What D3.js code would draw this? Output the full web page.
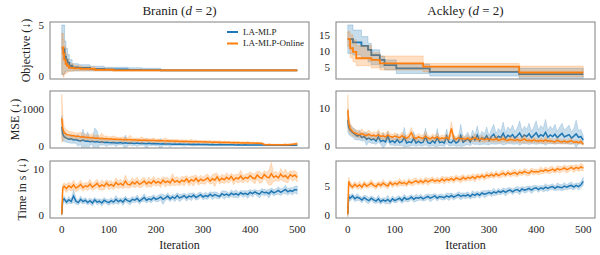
<!DOCTYPE html>
<html>
<head>
<meta charset="utf-8">
<script src="https://cdn.jsdelivr.net/npm/d3@7"></script>
<style>
body{margin:0;background:#fff;}
</style>
</head>
<body>
<script>
//---------------- data ----------------
var methods = ["LA-MLP", "LA-MLP-Online"];
var problems = ["Branin", "Ackley"];
var rowLabels = ["Objective (\u2193)", "MSE (\u2193)", "Time in s (\u2193)"];
var xTicks = [0, 100, 200, 300, 400, 500];

//iterations for the noisy rows
var iters = [0, 2,
  5,10,15,20,25,30,35,40,45,50,
  55,60,65,70,75,80,85,90,95,100,
  105,110,115,120,125,130,135,140,145,150,
  155,160,165,170,175,180,185,190,195,200,
  205,210,215,220,225,230,235,240,245,250,
  255,260,265,270,275,280,285,290,295,300,
  305,310,315,320,325,330,335,340,345,350,
  355,360,365,370,375,380,385,390,395,400,
  405,410,415,420,425,430,435,440,445,450,
  455,460,465,470,475,480,485,490,495,500];

//objective (best so far) - step change points
var braninObjStepsBlue = [0,4,6,9,12,16,22,35,60,90,140,170,210,500];
var braninObjBlue   = [2.7,2.6,1.9,1.6,1.3,1.0,0.85,0.8,0.7,0.65,0.6,0.58,0.55,0.55];
var braninObjBlueLo = [0.1,0.2,0.4,0.5,0.5,0.5,0.5,0.5,0.5,0.5,0.5,0.5,0.5,0.5];
var braninObjBlueHi = [5.0,5.0,3.4,2.7,2.1,1.6,1.2,1.1,0.95,0.85,0.8,0.75,0.6,0.6];
var braninObjStepsOrange = [0,3,5,8,11,15,25,40,70,110,500];
var braninObjOrange   = [2.8,2.2,1.6,1.2,1.0,0.8,0.75,0.7,0.6,0.55,0.55];
var braninObjOrangeLo = [0.2,-0.1,0.2,0.3,0.4,0.45,0.5,0.5,0.5,0.5,0.5];
var braninObjOrangeHi = [4.2,3.6,2.9,2.2,1.6,1.2,1.0,0.9,0.75,0.6,0.6];

var ackleyObjStepsBlue = [0,11,29,43,50,68,78,103,174,364,500];
var ackleyObjBlue   = [13.7,12.7,11.6,10.4,8.8,7.3,5.7,4.7,3.6,2.9,2.9];
var ackleyObjBlueLo = [9.3,8.8,8.0,6.7,5.8,5.0,4.2,3.1,2.3,1.6,1.6];
var ackleyObjBlueHi = [18.1,16.5,14.5,12.4,10.4,8.5,7.3,6.0,5.0,4.7,4.7];
var ackleyObjStepsOrange = [0,5,11,18,50,68,160,364,500];
var ackleyObjOrange   = [13.7,10.9,9.8,7.8,7.3,6.2,5.2,3.4,3.4];
var ackleyObjOrangeLo = [11.4,8.0,6.7,5.5,4.8,4.2,3.6,2.1,2.1];
var ackleyObjOrangeHi = [16.0,15.0,13.5,11.7,9.5,8.5,6.2,5.4,5.4];

//MSE - mean and std
var braninMseBlue = [520,330,
  250,214,183,192,161,176,150,139,158,128,
  134,117,125,108,121,99,112,96,104,93,
  88,97,84,81,92,77,86,74,80,76,
  70,79,66,73,69,62,71,60,65,58,
  63,55,60,52,57,54,49,56,47,51,
  45,50,44,47,42,46,40,45,39,42,
  38,43,36,40,37,34,39,33,37,32,
  35,31,34,29,33,30,28,32,27,30,
  26,29,25,28,24,27,23,26,22,25,
  21,24,20,23,19,22,18,21,19,20];
var braninMseBlueSd = [300,200,
  130,110,95,120,85,100,160,90,300,110,
  250,95,80,380,290,75,90,70,120,65,
  70,60,95,55,65,50,210,60,55,70,
  50,95,45,55,48,140,45,52,42,60,
  44,150,42,48,40,75,38,44,36,40,
  35,60,34,38,32,45,30,34,31,35,
  30,40,28,32,27,30,26,33,25,28,
  26,24,30,23,25,22,24,21,26,22,
  21,23,20,22,19,24,18,20,19,21,
  18,20,17,19,18,21,17,19,18,20];
var braninMseOrange = [750,480,
  360,312,301,276,284,258,266,243,252,232,
  238,221,229,209,216,203,212,195,201,186,
  194,180,188,174,183,170,178,166,173,162,
  169,158,165,153,161,150,157,146,152,143,
  148,139,145,135,141,132,138,128,134,125,
  130,122,127,118,124,115,120,112,117,109,
  114,105,110,102,107,99,104,96,101,93,
  98,90,95,87,92,84,89,81,86,78,
  82,75,79,72,74,42,35,38,32,36,
  33,37,31,35,38,34,40,45,52,60];
var braninMseOrangeSd = [650,350,
  160,120,100,110,90,95,85,130,80,90,
  75,85,110,70,80,65,140,70,75,60,
  65,90,58,62,55,75,52,60,120,55,
  50,58,48,90,46,52,44,50,65,42,
  46,40,44,85,40,42,38,55,37,40,
  36,42,35,38,60,34,37,33,36,32,
  35,31,40,30,33,29,45,28,31,27,
  30,26,29,38,25,28,24,27,35,23,
  26,22,25,21,24,15,14,16,13,15,
  14,16,13,15,18,14,20,22,28,35];

var ackleyMseBlue = [6.8,5.0,
  4.2,3.6,3.1,2.6,2.9,2.2,2.5,1.8,2.1,1.6,
  1.9,1.3,2.4,1.2,1.5,1.1,2.6,1.0,1.4,0.9,
  1.7,0.9,1.2,2.3,0.8,1.1,0.9,2.0,0.8,1.3,
  0.8,1.0,2.5,0.9,0.7,1.4,0.8,2.2,0.9,1.1,
  0.8,2.6,1.0,0.9,1.6,0.8,1.2,2.8,1.0,1.5,
  2.0,1.1,2.4,1.6,2.9,1.4,2.2,1.8,2.7,1.5,
  2.5,3.1,1.9,2.6,2.2,3.3,2.0,2.8,2.4,3.0,
  2.1,2.7,3.4,2.3,2.9,2.5,3.2,2.2,2.8,3.5,
  2.4,3.0,2.6,3.6,2.3,2.9,2.5,3.1,2.2,2.8,
  3.3,2.4,2.7,3.0,2.1,2.6,3.2,2.3,2.5,1.6];
var ackleyMseBlueSd = [3.0,2.0,
  1.5,1.2,1.4,1.0,1.3,0.9,1.1,1.6,1.0,0.9,
  1.2,0.9,1.4,0.8,2.0,0.9,1.3,0.8,1.1,0.9,
  1.5,0.8,1.0,2.6,0.9,1.2,0.8,1.8,0.9,1.1,
  0.8,1.0,2.2,0.9,0.8,1.3,0.9,2.4,0.8,1.0,
  0.9,1.9,1.0,0.8,1.4,0.9,1.1,2.9,1.0,1.3,
  1.6,1.0,1.8,1.2,2.4,1.1,1.7,1.3,2.3,1.2,
  1.9,2.6,1.4,2.0,1.6,3.0,1.5,2.2,1.8,2.5,
  1.6,2.1,3.2,1.7,2.3,1.9,2.8,1.6,2.2,3.1,
  1.8,2.4,2.0,3.4,1.7,2.3,1.9,2.6,1.6,2.2,
  2.7,1.8,2.1,2.5,1.6,2.0,3.6,1.7,1.9,1.2];
var ackleyMseOrange = [9.4,6.0,
  4.6,3.8,3.4,3.2,3.0,3.3,2.9,2.8,3.1,2.7,
  2.8,2.6,3.0,2.5,2.7,2.4,2.9,2.5,2.3,2.6,
  2.4,2.2,2.7,2.3,2.1,2.5,3.5,2.2,2.0,2.4,
  2.2,2.0,2.6,2.1,1.9,2.3,2.0,2.4,1.9,2.1,
  2.0,2.3,1.9,4.6,2.1,1.8,2.2,1.9,2.0,1.8,
  2.1,1.7,1.9,2.2,1.8,1.7,2.0,1.6,1.9,1.7,
  1.8,1.6,2.0,1.5,1.7,1.9,1.6,1.5,1.8,1.6,
  1.5,1.7,1.4,1.6,1.9,1.4,1.5,1.3,1.6,1.4,
  1.3,1.5,1.2,1.6,1.3,1.4,1.2,1.1,1.5,1.2,
  1.1,1.3,1.0,1.2,1.4,1.0,1.1,0.9,1.2,0.5];
var ackleyMseOrangeSd = [4.0,2.2,
  1.4,1.1,0.9,1.0,0.8,1.2,0.8,0.9,1.1,0.8,
  0.9,0.8,1.3,0.7,0.9,0.8,1.1,0.7,0.8,0.9,
  0.8,0.7,1.0,0.8,0.7,0.9,1.4,0.7,0.8,0.9,
  0.7,0.8,1.2,0.7,0.6,0.9,0.7,1.0,0.6,0.8,
  0.7,0.9,0.6,1.8,0.8,0.6,0.9,0.7,0.8,0.6,
  0.8,0.6,0.7,1.0,0.6,0.7,0.9,0.6,0.8,0.6,
  0.7,0.6,0.9,0.5,0.7,0.8,0.6,0.5,0.8,0.6,
  0.5,0.7,0.6,0.8,1.1,0.5,0.6,0.5,0.7,0.6,
  0.5,0.7,0.5,0.9,0.5,0.6,0.5,0.5,0.8,0.5,
  0.5,0.7,0.4,0.6,0.8,0.4,0.5,0.4,0.6,0.3];

//time per iteration - mean and std
var braninTimeBlue = [0.3,3.3,
  3.6,2.9,3.4,3.0,4.2,3.1,2.8,3.5,3.0,3.3,
  2.8,3.2,2.7,3.4,2.9,3.1,2.7,3.3,3.0,2.8,
  3.2,2.9,3.5,3.0,3.3,2.9,3.6,3.2,3.0,3.5,
  3.3,3.7,3.1,3.5,3.9,3.3,3.6,3.4,3.9,3.5,
  3.7,4.0,3.5,3.8,4.2,3.6,4.0,3.7,4.3,3.8,
  4.0,4.3,3.8,4.2,4.0,4.4,3.9,4.2,4.5,4.0,
  4.3,4.1,4.6,4.2,4.5,4.3,4.1,4.7,4.4,4.6,
  4.3,4.8,4.5,4.7,4.4,4.9,4.6,4.8,4.5,5.0,
  4.7,5.1,4.8,4.6,5.2,4.9,5.0,4.7,5.3,4.9,
  5.1,5.4,5.0,5.3,5.6,5.1,5.4,5.2,5.6,5.5];
var braninTimeBlueSd = [0.2,0.6,
  0.6,0.5,0.7,0.5,1.4,0.6,0.5,0.7,0.5,0.6,
  0.5,0.6,0.7,0.5,0.6,0.5,0.7,0.6,0.5,0.6,
  0.6,0.5,0.8,0.6,0.5,0.7,0.6,0.5,0.7,0.6,
  0.5,0.7,0.6,0.5,0.8,0.6,0.5,0.7,0.6,0.5,
  0.7,0.6,1.1,0.5,0.7,0.6,0.5,0.7,0.6,0.8,
  0.6,0.5,0.7,0.6,0.8,0.5,0.6,0.7,0.5,0.6,
  0.7,0.6,0.5,0.8,0.6,0.7,0.5,0.6,0.9,0.6,
  0.5,0.7,0.6,0.8,0.6,0.5,0.7,0.6,0.8,0.6,
  0.7,0.5,0.6,0.8,0.6,0.7,0.5,0.9,0.6,0.7,
  0.6,0.8,0.7,0.6,0.9,0.7,0.6,0.8,0.7,0.9];
var braninTimeOrange = [0.3,5.9,
  6.3,5.8,6.4,6.0,6.6,5.9,6.2,6.7,6.0,6.4,
  6.2,6.8,6.1,6.5,6.9,6.2,6.6,6.3,7.0,6.4,
  6.7,6.3,7.1,6.6,6.9,6.5,7.4,6.7,6.6,7.2,
  6.8,7.3,6.7,7.0,7.4,6.8,7.2,6.9,7.5,7.0,
  7.3,6.9,7.6,7.1,7.4,7.0,7.8,7.2,7.5,7.1,
  7.6,7.3,7.9,7.2,7.7,7.4,8.0,7.3,7.8,7.5,
  7.7,8.1,7.4,7.9,7.6,8.3,7.5,8.0,7.7,8.2,
  7.8,8.4,7.6,8.1,7.9,8.5,7.8,8.2,8.0,8.6,
  8.1,7.9,8.7,8.2,8.0,8.8,8.3,8.1,9.0,8.2,
  8.5,8.1,8.9,8.3,8.6,8.0,8.8,8.4,8.7,8.2];
var braninTimeOrangeSd = [0.3,0.8,
  0.7,0.9,0.8,0.7,1.0,0.8,0.7,0.9,0.8,0.7,
  0.8,1.0,0.7,0.8,0.9,0.7,1.1,0.8,0.7,0.9,
  0.8,0.7,1.0,0.8,0.9,0.7,1.3,0.8,0.7,0.9,
  0.8,1.0,0.7,0.9,0.8,0.7,1.0,0.8,0.9,0.7,
  0.8,0.9,0.7,1.0,0.8,0.7,1.2,0.8,0.9,0.7,
  0.8,1.0,0.7,0.9,0.8,1.1,0.7,0.8,0.9,0.7,
  1.0,0.8,0.7,0.9,1.4,0.8,0.7,0.9,0.8,1.0,
  0.8,0.7,1.0,0.8,0.9,1.2,0.8,0.7,1.0,0.8,
  0.9,1.1,0.8,1.3,0.9,0.8,1.0,1.6,2.4,0.9,
  1.0,0.8,1.2,0.9,1.4,1.0,0.8,1.1,0.9,1.0];

var ackleyTimeBlue = [0.3,3.3,
  3.0,3.4,2.9,3.2,3.0,2.7,3.1,2.8,2.6,3.0,
  2.7,2.5,2.9,2.4,2.7,2.5,2.8,2.4,2.9,2.6,
  2.8,3.0,2.6,3.1,2.8,2.9,3.2,2.8,3.1,3.0,
  3.2,2.9,3.1,3.3,3.0,3.2,3.4,3.0,3.3,3.2,
  3.1,3.4,3.2,3.5,3.2,3.4,3.6,3.3,3.5,3.4,
  3.6,3.3,3.7,3.5,3.8,3.5,3.9,3.7,3.8,4.0,
  3.8,4.1,3.9,4.2,4.0,4.3,4.0,4.3,4.4,4.1,
  4.4,4.5,4.2,4.6,4.4,4.5,4.7,4.4,4.7,4.8,
  4.5,4.8,4.6,4.9,4.7,4.9,5.0,4.7,5.0,4.9,
  4.8,5.1,4.9,5.1,5.2,4.9,5.2,5.0,5.3,5.9];
var ackleyTimeBlueSd = [0.6,0.5,
  0.5,0.4,0.5,0.6,0.4,0.5,0.4,0.6,0.5,0.4,
  0.5,0.4,0.6,0.5,0.4,0.5,0.7,0.4,0.5,0.4,
  0.5,0.4,0.5,0.6,0.4,0.5,0.4,0.5,0.6,0.4,
  0.5,0.4,0.5,0.4,0.6,0.5,0.4,0.5,0.4,0.5,
  0.4,0.5,0.6,0.4,0.5,0.4,0.5,0.6,0.4,0.5,
  0.5,0.4,0.6,0.5,0.4,0.5,0.4,0.6,0.5,0.4,
  0.5,0.6,0.4,0.5,0.4,0.5,0.6,0.5,0.4,0.5,
  0.4,0.5,0.6,0.4,0.5,0.5,0.4,0.6,0.5,0.4,
  0.5,0.4,0.5,0.6,0.5,0.4,0.5,0.4,0.6,0.5,
  0.5,0.6,0.4,0.5,0.6,0.5,0.4,0.6,0.5,0.7];
var ackleyTimeOrange = [0.2,5.9,
  5.3,4.9,5.4,5.0,5.3,4.9,5.5,5.1,5.3,5.6,
  5.2,5.0,5.5,5.2,5.6,5.3,5.1,5.7,5.3,5.6,
  5.4,5.8,5.5,5.7,5.4,5.9,5.6,5.8,6.0,5.7,
  6.0,5.7,6.1,5.8,6.0,6.2,5.9,6.1,5.9,6.3,
  6.0,6.3,6.1,6.4,6.1,6.5,6.3,6.2,6.6,6.3,
  6.6,6.4,6.7,6.4,6.8,6.6,6.9,6.6,7.0,6.8,
  7.1,6.8,7.2,6.9,7.1,7.3,7.0,7.4,7.1,7.3,
  7.4,7.1,7.5,7.3,7.6,7.4,7.3,7.7,7.5,7.6,
  7.5,7.8,7.6,7.9,7.7,7.8,8.0,7.7,8.1,7.9,
  8.0,8.2,7.9,8.1,8.3,8.0,8.3,8.1,8.4,8.2];
var ackleyTimeOrangeSd = [0.3,0.7,
  0.5,0.4,0.5,0.4,0.6,0.4,0.5,0.4,0.5,0.6,
  0.4,0.5,0.4,0.5,0.6,0.4,0.5,0.4,0.5,0.4,
  0.5,0.6,0.4,0.5,0.4,0.5,0.4,0.6,0.5,0.4,
  0.5,0.4,0.5,0.6,0.4,0.5,0.4,0.5,0.4,0.5,
  0.6,0.4,0.5,0.4,0.5,0.5,0.4,0.6,0.5,0.4,
  0.5,0.4,0.5,0.6,0.4,0.5,0.4,0.5,0.6,0.4,
  0.5,0.4,0.5,0.4,0.6,0.5,0.4,0.5,0.4,0.5,
  0.6,0.4,0.5,0.4,0.5,0.6,0.4,0.5,0.5,0.4,
  0.5,0.6,0.4,0.5,0.4,0.6,0.5,0.4,0.5,0.6,
  0.4,0.5,0.6,0.5,0.4,0.6,0.5,0.5,0.6,0.5];

(function(){

    //pseudo-global layout
    var width = 600, height = 255;
    var fontFamily = "'Liberation Serif', 'DejaVu Serif', 'Times New Roman', serif";
    var colors = ["#1f77b4", "#ff7f0e"];
    var cols = [{left: 50, right: 309}, {left: 336, right: 595}];
    var rows = [{top: 22, bottom: 79}, {top: 91, bottom: 148}, {top: 161, bottom: 218}];
    var labelX = [30, 19, 26];

    //axis limits and ticks per panel [row][col]
    var yDomains = [
        [[-0.3, 5.3], [1.4, 19]],
        [[-54, 1486], [-0.5, 14.4]],
        [[-0.5, 11.7], [-0.4, 9.4]]
    ];
    var yTicks = [
        [[0, 5], [5, 10, 15]],
        [[0, 1000], [0, 10]],
        [[0, 10], [0, 5]]
    ];

    //step series for the objective row
    var stepSeries = [
        [
            {x: braninObjStepsBlue, m: braninObjBlue, lo: braninObjBlueLo, hi: braninObjBlueHi},
            {x: braninObjStepsOrange, m: braninObjOrange, lo: braninObjOrangeLo, hi: braninObjOrangeHi}
        ],
        [
            {x: ackleyObjStepsBlue, m: ackleyObjBlue, lo: ackleyObjBlueLo, hi: ackleyObjBlueHi},
            {x: ackleyObjStepsOrange, m: ackleyObjOrange, lo: ackleyObjOrangeLo, hi: ackleyObjOrangeHi}
        ]
    ];
    //noisy series, [row-1][col]
    var noisySeries = [
        [
            [{m: braninMseBlue, sd: braninMseBlueSd}, {m: braninMseOrange, sd: braninMseOrangeSd}],
            [{m: ackleyMseBlue, sd: ackleyMseBlueSd}, {m: ackleyMseOrange, sd: ackleyMseOrangeSd}]
        ],
        [
            [{m: braninTimeBlue, sd: braninTimeBlueSd}, {m: braninTimeOrange, sd: braninTimeOrangeSd}],
            [{m: ackleyTimeBlue, sd: ackleyTimeBlueSd}, {m: ackleyTimeOrange, sd: ackleyTimeOrangeSd}]
        ]
    ];

    var svg = d3.select("body")
        .append("svg")
        .attr("width", width)
        .attr("height", height)
        .attr("font-family", fontFamily)
        .style("font-family", fontFamily);

    var defs = svg.append("defs");

    rows.forEach(function(row, r){
        cols.forEach(function(col, c){
            var x = d3.scaleLinear().domain([-25, 525]).range([col.left, col.right]);
            var y = d3.scaleLinear().domain(yDomains[r][c]).range([row.bottom, row.top]);
            var clipId = "clip" + r + c;

            defs.append("clipPath").attr("id", clipId)
                .append("rect")
                .attr("x", col.left).attr("y", row.top)
                .attr("width", col.right - col.left)
                .attr("height", row.bottom - row.top);

            var g = svg.append("g").attr("clip-path", "url(#" + clipId + ")");

            if (r === 0){
                //best objective so far, drawn as steps
                stepSeries[c].forEach(function(s, k){
                    var pts = s.x.map(function(v, i){ return {x: v, m: s.m[i], lo: s.lo[i], hi: s.hi[i]}; });
                    var area = d3.area().curve(d3.curveStepAfter)
                        .x(function(d){ return x(d.x); })
                        .y0(function(d){ return y(d.lo); })
                        .y1(function(d){ return y(d.hi); });
                    var line = d3.line().curve(d3.curveStepAfter)
                        .x(function(d){ return x(d.x); })
                        .y(function(d){ return y(d.m); });
                    g.append("path").attr("d", area(pts))
                        .attr("fill", colors[k]).attr("fill-opacity", 0.25)
                        .attr("stroke", colors[k]).attr("stroke-opacity", 0.3).attr("stroke-width", 0.8);
                    g.append("path").attr("d", line(pts))
                        .attr("fill", "none").attr("stroke", colors[k]).attr("stroke-width", 1.8);
                });
            } else {
                noisySeries[r - 1][c].forEach(function(s, k){
                    var n = Math.min(iters.length, s.m.length, s.sd.length);
                    var pts = d3.range(n).map(function(i){ return {x: iters[i], m: s.m[i], sd: s.sd[i]}; });
                    var area = d3.area()
                        .x(function(d){ return x(d.x); })
                        .y0(function(d){ return y(d.m - d.sd); })
                        .y1(function(d){ return y(d.m + d.sd); });
                    var line = d3.line()
                        .x(function(d){ return x(d.x); })
                        .y(function(d){ return y(d.m); });
                    g.append("path").attr("d", area(pts))
                        .attr("fill", colors[k]).attr("fill-opacity", 0.25)
                        .attr("stroke", colors[k]).attr("stroke-opacity", 0.3).attr("stroke-width", 0.6);
                    g.append("path").attr("d", line(pts))
                        .attr("fill", "none").attr("stroke", colors[k]).attr("stroke-width", 1.5);
                });
            }

            //y tick labels
            svg.append("g").selectAll("text")
                .data(yTicks[r][c])
                .enter()
                .append("text")
                .attr("x", col.left - 6)
                .attr("y", function(d){ return y(d); })
                .attr("dy", "0.34em")
                .attr("text-anchor", "end")
                .attr("font-family", fontFamily)
                .attr("font-size", 11)
                .attr("fill", "#222")
                .text(function(d){ return d; });

            //x tick labels on bottom row
            if (r === 2){
                svg.append("g").selectAll("text")
                    .data(xTicks)
                    .enter()
                    .append("text")
                    .attr("x", function(d){ return x(d); })
                    .attr("y", 232.5)
                    .attr("text-anchor", "middle")
                    .attr("font-family", fontFamily)
                    .attr("font-size", 11)
                    .attr("fill", "#222")
                    .text(function(d){ return d; });

                svg.append("text")
                    .attr("x", (col.left + col.right) / 2)
                    .attr("y", 248.5)
                    .attr("text-anchor", "middle")
                    .attr("font-family", fontFamily)
                    .attr("font-size", 12)
                    .attr("fill", "#222")
                    .text("Iteration");
            }

            //panel frame
            svg.append("rect")
                .attr("x", col.left).attr("y", row.top)
                .attr("width", col.right - col.left)
                .attr("height", row.bottom - row.top)
                .attr("fill", "none")
                .attr("stroke", "#808080")
                .attr("stroke-width", 1);
        });

        //row label
        svg.append("text")
            .attr("transform", "translate(" + labelX[r] + "," + ((row.top + row.bottom) / 2) + ") rotate(-90)")
            .attr("text-anchor", "middle")
            .attr("font-family", fontFamily)
            .attr("font-size", 12)
            .attr("fill", "#222")
            .text(rowLabels[r]);
    });

    //column titles
    cols.forEach(function(col, c){
        var t = svg.append("text")
            .attr("x", (col.left + col.right) / 2)
            .attr("y", 14.5)
            .attr("text-anchor", "middle")
            .attr("font-family", fontFamily)
            .attr("font-size", 13)
            .attr("fill", "#222");
        t.append("tspan").text(problems[c] + " (");
        t.append("tspan").attr("font-style", "italic").text("d");
        t.append("tspan").text(" = 2)");
    });

    //legend
    var legend = svg.append("g").attr("transform", "translate(227,32)");
    methods.forEach(function(name, k){
        legend.append("line")
            .attr("x1", 0).attr("x2", 11)
            .attr("y1", k * 11.5).attr("y2", k * 11.5)
            .attr("stroke", colors[k]).attr("stroke-width", 2);
        legend.append("text")
            .attr("x", 16).attr("y", k * 11.5)
            .attr("dy", "0.33em")
            .attr("font-family", fontFamily)
            .attr("font-size", 9)
            .attr("fill", "#222")
            .text(name);
    });
})();
</script>
</body>
</html>
